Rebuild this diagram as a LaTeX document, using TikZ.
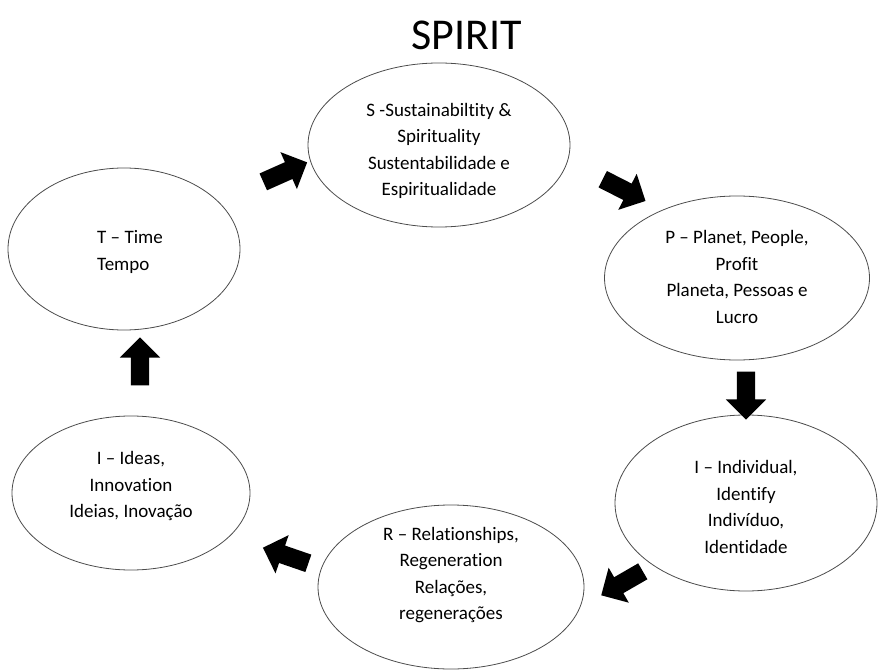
\documentclass[tikz,border=0pt]{standalone}
\usepackage{fontspec}
\setmainfont{Carlito}[Ligatures=NoCommon]
\usetikzlibrary{shapes.geometric,shapes.arrows}
\begin{document}
\begin{tikzpicture}[x=1pt,y=-1pt,
  bubble/.style={ellipse,draw=black!70,line width=0.8pt,inner sep=0pt},
  btext/.style={align=center,inner sep=0pt,font=\fontsize{19}{26.5}\selectfont},
  blockarr/.style={single arrow,fill=black,draw=none,inner sep=9pt,
    single arrow head extend=11pt,single arrow head indent=0pt,minimum height=48pt}]
\useasboundingbox (0,0) rectangle (878,671);
\node[font=\fontsize{44}{50}\selectfont] (title) at (467,35) {SPIRIT};
\node[bubble,minimum width=262pt,minimum height=164pt] (S) at (439,145) {};
\node[btext] (St) at (439,151)
  {S -Sustainabiltity \&\\Spirituality\\Sustentabilidade e\\Espiritualidade};
\node[bubble,minimum width=265pt,minimum height=164pt] (P) at (737,278) {};
\node[btext] (Pt) at (737,277)
  {P – Planet, People,\\Profit\\Planeta, Pessoas e\\Lucro};
\node[bubble,minimum width=262pt,minimum height=176pt] (Ind) at (746,503) {};
\node[btext] (Indt) at (746,507)
  {I – Individual,\\Identify\\Indivíduo,\\Identidade};
\node[bubble,minimum width=266pt,minimum height=164pt] (R) at (451,587) {};
\node[btext] (Rt) at (451,575)
  {R – Relationships,\\Regeneration\\Relações,\\regenerações};
\node[bubble,minimum width=238pt,minimum height=154pt] (Id) at (131,493) {};
\node[btext] (Idt) at (131,486)
  {I – Ideas,\\Innovation\\Ideias, Inovação};
\node[bubble,minimum width=232pt,minimum height=162pt] (T) at (124,249) {};
\node[btext,align=left,anchor=west] (Tt) at (97,252)
  {T – Time\\Tempo};
\node[blockarr,rotate=24] (a1) at (281,174) {};
\node[blockarr,rotate=-27] (a2) at (620,188) {};
\node[blockarr,rotate=-90] (a3) at (746,391) {};
\node[blockarr,rotate=-150] (a4) at (626,581) {};
\node[blockarr,rotate=161] (a5) at (290,557) {};
\node[blockarr,rotate=90] (a6) at (140,366) {};
\end{tikzpicture}
\end{document}
